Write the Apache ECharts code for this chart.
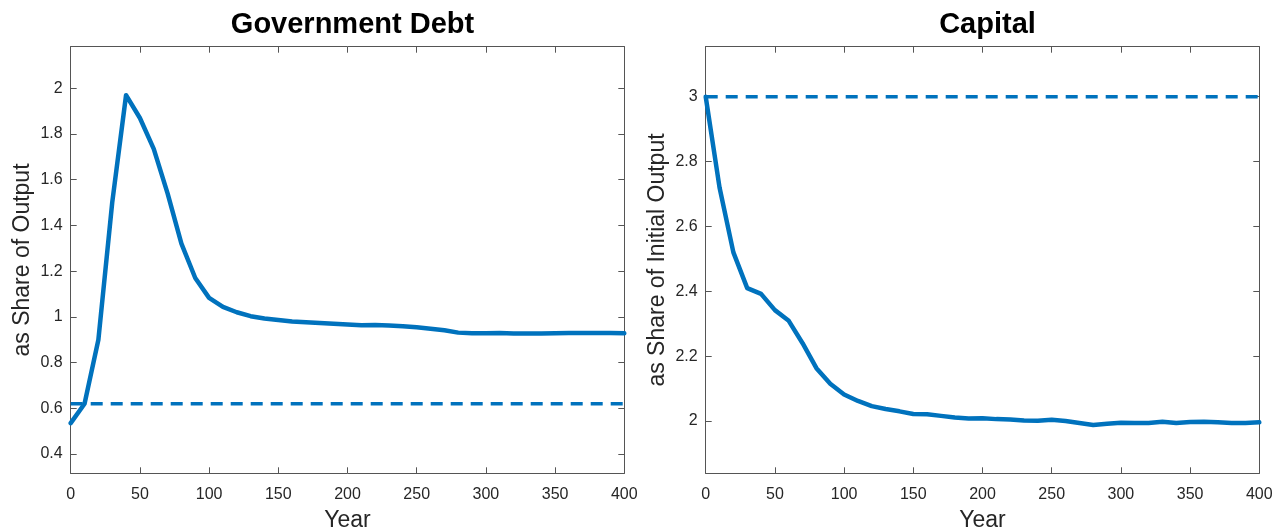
<!DOCTYPE html>
<html>
<head>
<meta charset="utf-8">
<script src="https://cdn.jsdelivr.net/npm/echarts@6/dist/echarts.min.js"></script>
<style>html,body{margin:0;padding:0;background:#fff;}#c{width:1285px;height:531px;}</style>
</head>
<body>
<div id="c"></div>
<script>
var years = [0,10,20,30,40,50,60,70,80,90,100,110,120,130,140,150,160,170,180,190,200,210,220,230,240,250,260,270,280,290,300,310,320,330,340,350,360,370,380,390,400];
var debt = [0.535,0.62,0.9,1.5,1.97,1.87,1.735,1.54,1.32,1.17,1.083,1.044,1.02,1.003,0.993,0.986,0.98,0.976,0.973,0.97,0.967,0.963,0.964,0.962,0.959,0.954,0.948,0.941,0.931,0.928,0.928,0.929,0.927,0.927,0.927,0.928,0.929,0.929,0.929,0.929,0.928];
var capital = [3.0,2.72,2.52,2.41,2.392,2.342,2.309,2.24,2.163,2.115,2.082,2.062,2.046,2.037,2.03,2.022,2.021,2.016,2.011,2.008,2.009,2.006,2.005,2.002,2.001,2.004,2.0,1.994,1.988,1.992,1.995,1.994,1.994,1.998,1.994,1.997,1.998,1.996,1.994,1.994,1.996];
var debtRef = 0.62;
var capitalRef = 3.0;
var debtTicks = [0.4,0.6,0.8,1,1.2,1.4,1.6,1.8,2];
var capitalTicks = [2,2.2,2.4,2.6,2.8,3];
var yearTicks = [0,50,100,150,200,250,300,350,400];
var titles = ['Government Debt','Capital'];
var yNames = ['as Share of Output','as Share of Initial Output'];
var xName = 'Year';

function pairs(xs, ys){ return xs.map(function(x,i){ return [x, ys[i]]; }); }
function flat(xs, v){ return [[xs[0], v],[xs[xs.length-1], v]]; }

var FONT = '"Liberation Sans", Arial, Helvetica, sans-serif';
var AX = '#555';
var TXT = '#262626';
var BLUE = '#0072BD';

var grids = [
  {left: 70.7, right: 660.7, top: 46.7, bottom: 57.7, outerBoundsMode:'none', containLabel:false},
  {left: 705.7, right: 25.7, top: 46.7, bottom: 57.7, outerBoundsMode:'none', containLabel:false}
];
var yLims = [[0.3155, 2.182],[1.839, 3.154]];
var yTicks = [debtTicks, capitalTicks];

var xAxes = [], yAxes = [];
for (var g=0; g<2; g++){
  xAxes.push({
    type:'value', gridIndex:g, min:0, max:400, interval:50, position:'bottom',
    name: xName, nameLocation:'middle', nameGap:36,
    nameTextStyle:{fontFamily:FONT, fontSize:23, color:TXT},
    axisLine:{show:true, onZero:false, lineStyle:{color:AX, width:1}},
    axisTick:{show:true, inside:true, length:6, customValues:yearTicks, lineStyle:{color:AX}},
    axisLabel:{show:true, margin:13, customValues:yearTicks, fontFamily:FONT, fontSize:16, color:TXT},
    splitLine:{show:false}
  });
  xAxes.push({
    type:'value', gridIndex:g, min:0, max:400, interval:50, position:'top',
    axisLine:{show:true, onZero:false, lineStyle:{color:AX, width:1}},
    axisTick:{show:true, inside:true, length:6, customValues:yearTicks, lineStyle:{color:AX}},
    axisLabel:{show:false}, splitLine:{show:false}
  });
  yAxes.push({
    type:'value', gridIndex:g, min:yLims[g][0], max:yLims[g][1], position:'left',
    name: yNames[g], nameLocation:'middle', nameGap:37, nameRotate:90,
    nameTextStyle:{fontFamily:FONT, fontSize:23, color:TXT},
    axisLine:{show:true, onZero:false, lineStyle:{color:AX, width:1}},
    axisTick:{show:true, inside:true, length:6, customValues:yTicks[g], lineStyle:{color:AX}},
    axisLabel:{show:true, margin:8, customValues:yTicks[g], fontFamily:FONT, fontSize:16, color:TXT},
    splitLine:{show:false}
  });
  yAxes.push({
    type:'value', gridIndex:g, min:yLims[g][0], max:yLims[g][1], position:'right',
    axisLine:{show:true, onZero:false, lineStyle:{color:AX, width:1}},
    axisTick:{show:true, inside:true, length:6, customValues:yTicks[g], lineStyle:{color:AX}},
    axisLabel:{show:false}, splitLine:{show:false}
  });
}

var option = {
  animation:false,
  backgroundColor:'#fff',
  title:[
    {text:titles[0], left:347.5, top:5, textAlign:'center', textStyle:{fontFamily:FONT, fontSize:29, fontWeight:'bold', color:'#000'}},
    {text:titles[1], left:982.5, top:5, textAlign:'center', textStyle:{fontFamily:FONT, fontSize:29, fontWeight:'bold', color:'#000'}}
  ],
  grid:grids,
  xAxis:xAxes,
  yAxis:yAxes,
  series:[
    {type:'line', xAxisIndex:0, yAxisIndex:0, data:flat(years, debtRef), showSymbol:false, symbol:'none',
     lineStyle:{color:BLUE, width:3.5, type:[12,8]}, z:2},
    {type:'line', xAxisIndex:0, yAxisIndex:0, data:pairs(years, debt), showSymbol:false, symbol:'none',
     lineStyle:{color:BLUE, width:4.5, join:'round', cap:'round'}, z:3},
    {type:'line', xAxisIndex:2, yAxisIndex:2, data:flat(years, capitalRef), showSymbol:false, symbol:'none',
     lineStyle:{color:BLUE, width:3.5, type:[12,8]}, z:2},
    {type:'line', xAxisIndex:2, yAxisIndex:2, data:pairs(years, capital), showSymbol:false, symbol:'none',
     lineStyle:{color:BLUE, width:4.5, join:'round', cap:'round'}, z:3}
  ]
};
var chart = echarts.init(document.getElementById('c'), null, {renderer:'canvas'});
chart.setOption(option);
</script>
</body>
</html>
